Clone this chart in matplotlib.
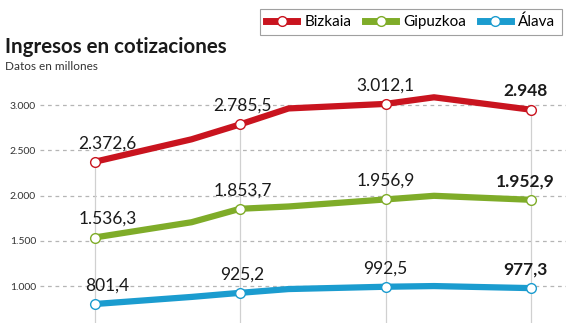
import matplotlib.pyplot as plt
from matplotlib.lines import Line2D

# only the points where the lines change direction
x_pos = [0, 2, 3, 4, 6, 7, 9]
bizkaia = [2372.6, 2621, 2785.5, 2962, 3012.1, 3085, 2948]
gipuzkoa = [1536.3, 1705, 1853.7, 1879, 1956.9, 1997, 1952.9]
alava = [801.4, 880, 925.2, 967, 992.5, 1000, 977.3]
# the labeled points
x_lab = [0, 3, 6, 9]
bizkaia_lab = [2372.6, 2785.5, 3012.1, 2948]
gipuzkoa_lab = [1536.3, 1853.7, 1956.9, 1952.9]
alava_lab = [801.4, 925.2, 992.5, 977.3]
lab_text = {
    'Bizkaia': ['2.372,6', '2.785,5', '3.012,1', '2.948'],
    'Gipuzkoa': ['1.536,3', '1.853,7', '1.956,9', '1.952,9'],
    'Álava': ['801,4', '925,2', '992,5', '977,3'],
}
yticks = [1000, 1500, 2000, 2500, 3000]
ytick_labels = ['1.000', '1.500', '2.000', '2.500', '3.000']

colors = {'Bizkaia': '#c9141f', 'Gipuzkoa': '#7fac29', 'Álava': '#1b9ccf'}

plt.rcParams['font.family'] = ['Lato', 'DejaVu Sans']

fig = plt.figure(figsize=(5.75, 3.23), dpi=100)
ax = fig.add_axes([0.07, 0.0, 0.915, 0.715])
ax.set_xlim(-1.12, 9.73)
ax.set_ylim(592, 3143)

for y in yticks:
    ax.axhline(y, color='#b5b5b5', lw=0.9, ls=(0, (3, 3)), zorder=1)

# vertical guides from the top series down
for xv, top in zip(x_lab, bizkaia_lab):
    ax.plot([xv, xv], [592, top], color='#d0d0d0', lw=0.9, zorder=1)

series = [('Bizkaia', bizkaia, bizkaia_lab),
          ('Gipuzkoa', gipuzkoa, gipuzkoa_lab),
          ('Álava', alava, alava_lab)]

for name, vals, labs in series:
    c = colors[name]
    ax.plot(x_pos, vals, color=c, lw=4.5, solid_joinstyle='round',
            solid_capstyle='round', zorder=3, clip_on=False)
    ax.plot(x_lab, labs, ls='none', marker='o', ms=7, mfc='white',
            mec=c, mew=1.0, zorder=4, clip_on=False)
    for i, (xv, v) in enumerate(zip(x_lab, labs)):
        dx = [0.27, 0.05, 0.0, -0.12][i]
        last = i == 3
        ax.text(xv + dx, v + 205, lab_text[name][i], ha='center', va='center',
                fontsize=12.5, fontweight='bold' if last else 'normal',
                color='#1a1a1a', zorder=5)

ax.set_yticks(yticks)
ax.set_yticklabels(ytick_labels, fontsize=7.5, color='#333333')
ax.tick_params(axis='y', length=0, pad=3)
ax.set_xticks([])
for s in ax.spines.values():
    s.set_visible(False)

fig.text(0.009, 0.855, 'Ingresos en cotizaciones', fontsize=14.8,
         fontweight='bold', color='#1a1a1a', va='center')
fig.text(0.009, 0.795, 'Datos en millones', fontsize=8.5, color='#333333',
         va='center')

handles = [Line2D([], [], color=colors[n], lw=5, marker='o', ms=7,
                  mfc='white', mec=colors[n], mew=1.0) for n, _, _ in series]
leg = fig.legend(handles, [n for n, _, _ in series], loc='upper right',
                 bbox_to_anchor=(0.99, 0.997), ncol=3, fontsize=11,
                 frameon=True, fancybox=False, edgecolor='#888888',
                 handlelength=2.0, handletextpad=0.5, columnspacing=0.9,
                 borderpad=0.4, markerscale=1.0)
leg.get_frame().set_linewidth(0.8)

fig.savefig('out.png', dpi=100)
